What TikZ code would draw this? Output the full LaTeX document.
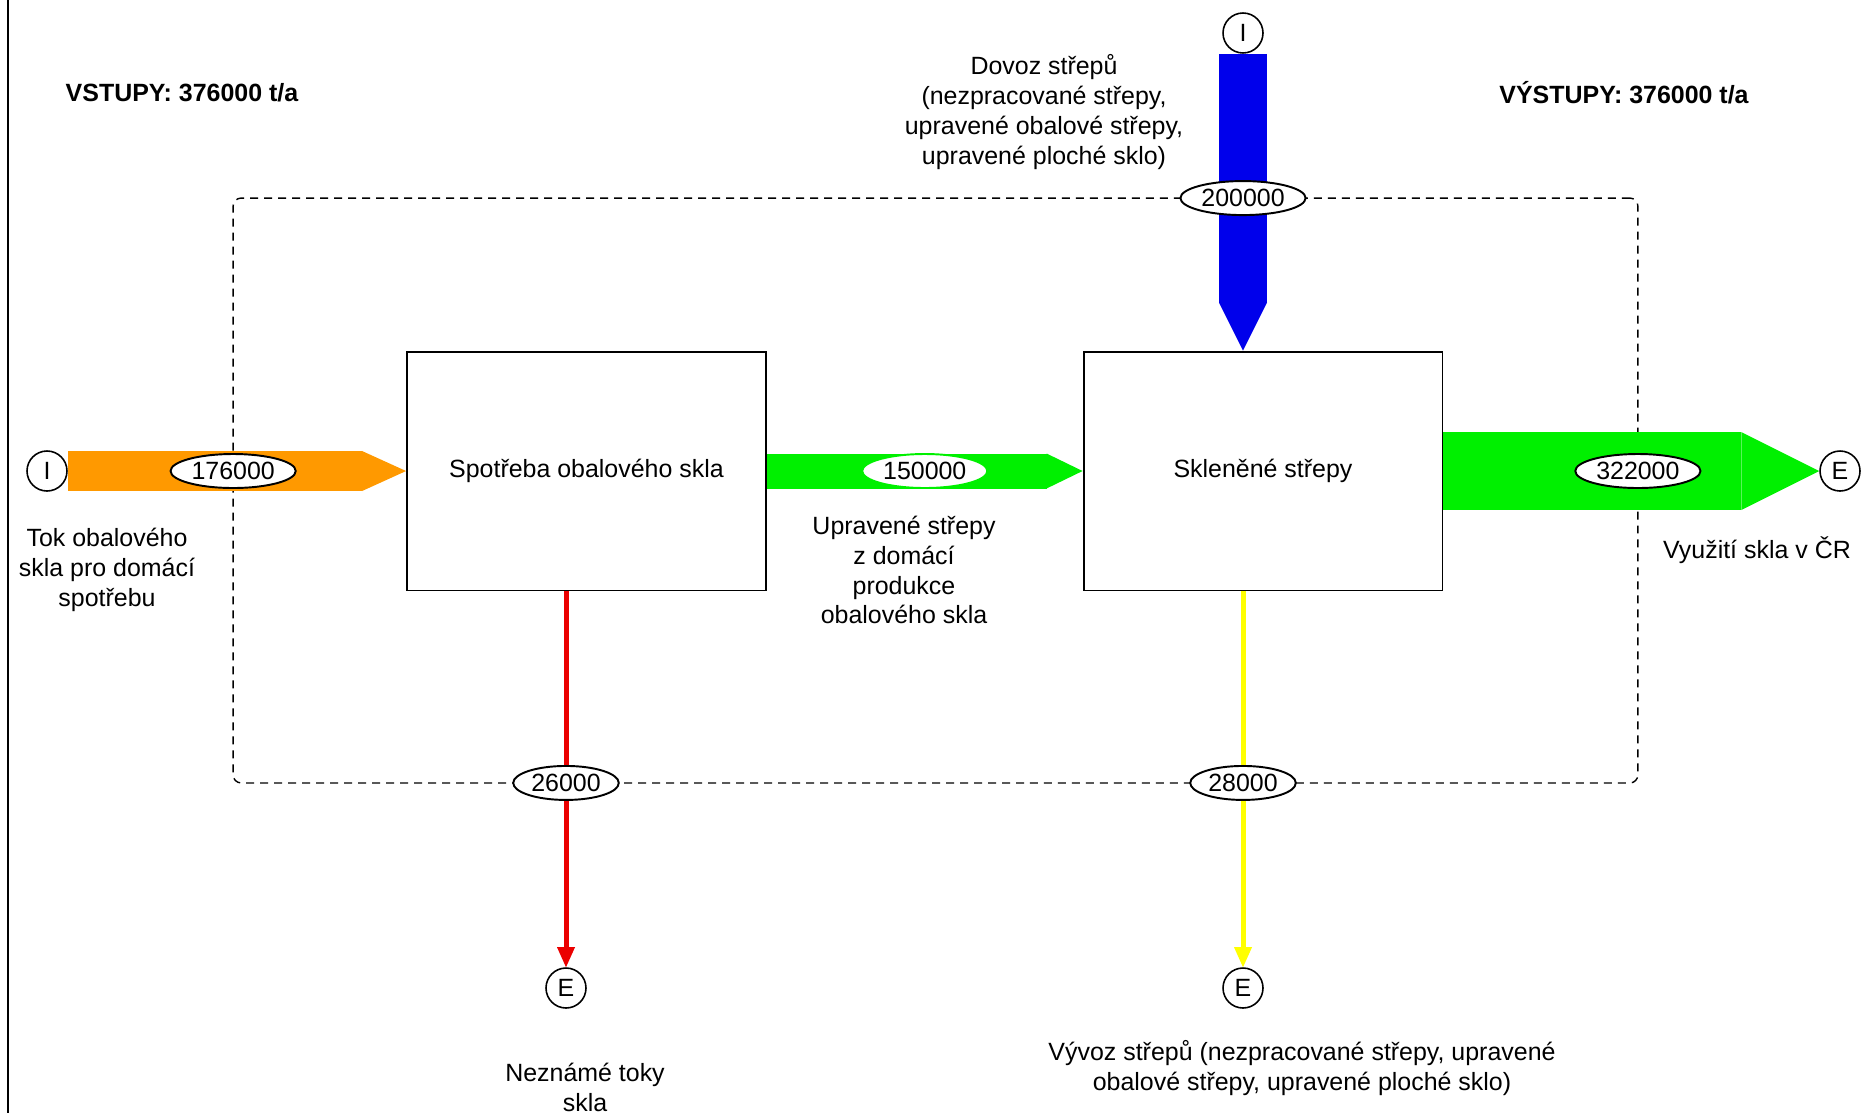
\documentclass[tikz,border=0pt]{standalone}
\usepackage{fontspec}
\setmainfont{Liberation Sans}
\usepackage{xcolor}
\usepackage{tikz}
\usetikzlibrary{shapes.geometric, arrows.meta, positioning}
\definecolor{flowOrange}{RGB}{255,153,0}
\definecolor{flowGreen}{RGB}{0,240,0}
\definecolor{flowBlue}{RGB}{0,0,235}
\definecolor{flowRed}{RGB}{235,0,0}
\definecolor{flowYellow}{RGB}{255,255,0}
\tikzset{
    process/.style={rectangle, draw, line width=1.1pt, fill=white, minimum width=7.18cm, minimum height=4.78cm, inner sep=0pt, text centered},
    terminal/.style={circle, draw, line width=0.9pt, fill=white, minimum size=0.8cm, inner sep=0pt},
    amount/.style={ellipse, draw, line width=1.1pt, fill=white, inner xsep=1.5pt, inner ysep=0pt, minimum height=0.68cm},
    boundary/.style={rectangle, draw, dashed, dash pattern=on 0.16cm off 0.12cm, line width=0.8pt, rounded corners=0.16cm, minimum width=28.1cm, minimum height=11.7cm, inner sep=0pt, outer sep=0pt},
    caption/.style={align=center},
    fatflow/.style n args={3}{draw=#1, line width=#2, -{Triangle[length=#3, width=#2, line width=0pt]}},
    thinflow/.style={draw=#1, line width=0.1cm, -{Triangle[length=0.4cm, width=0.36cm, line width=0pt]}}
}
\begin{document}
\begin{tikzpicture}[
    x=0.02cm, y=-0.02cm,
    every node/.append style={font=\fontsize{14.2pt}{17pt}\selectfont},
    total/.style={font=\fontsize{14.2pt}{17pt}\selectfont\bfseries}
]
    \useasboundingbox (0,0) rectangle (1861,1113);
    \draw[line width=1.1pt] (8,0) -- (8,1113);

    % System boundary
    \node[boundary] (bnd) at (935.5,490.5) {};

    % Totals
    \node[total] (inTotal) at (182,93) {VSTUPY: 376000 t/a};
    \node[total] (outTotal) at (1624,93) {VÝSTUPY: 376000 t/a};

    % Inputs and exports
    \node[terminal] (inOrange) at (47,471) {I};
    \node[terminal] (inBlue) at (1243,33) {I};
    \node[terminal] (outGreen) at (1840,471) {E};
    \node[terminal] (outRed) at (566,988) {E};
    \node[terminal] (outYellow) at (1243,988) {E};

    % Processes
    \node[process] (consume) at (586.5,471) {Spotřeba obalového skla};
    \node[process] (cullet) at (1263,471) {Skleněné střepy};

    % Flows
    \draw[fatflow={flowOrange}{0.8cm}{0.88cm}] (inOrange) -- (consume);
    \draw[fatflow={flowGreen}{0.7cm}{0.72cm}] (consume) -- node[amount] (amtGreen) {150000} (cullet);
    \draw[fatflow={flowBlue}{0.96cm}{0.96cm}] (inBlue) -- (inBlue |- cullet.north);
    \draw[fatflow={flowGreen}{1.56cm}{1.56cm}] (cullet) -- (outGreen);
    \draw[thinflow=flowRed] (outRed |- consume.south) -- (outRed);
    \draw[thinflow=flowYellow] (outYellow |- cullet.south) -- (outYellow);

    % Amounts on the boundary
    \node[amount] (amtOrange) at (bnd.west |- inOrange) {176000};
    \node[amount] (amtBlue) at (bnd.north -| inBlue) {200000};
    \node[amount] (amtOut) at (bnd.east |- outGreen) {322000};
    \node[amount] (amtRed) at (bnd.south -| outRed) {26000};
    \node[amount] (amtYellow) at (bnd.south -| outYellow) {28000};

    % Captions
    \node[caption] (capOrange) at (107,570) {Tok obalového\\skla pro domácí\\spotřebu};
    \node[caption] (capGreen) at (904,570) {Upravené střepy\\z domácí\\produkce\\obalového skla};
    \node[caption] (capBlue) at (1044,112) {Dovoz střepů\\(nezpracované střepy,\\upravené obalové střepy,\\upravené ploché sklo)};
    \node[caption] (capOut) at (1757,550) {Využití skla v ČR};
    \node[caption] (capYellow) at (1302,1068) {Vývoz střepů (nezpracované střepy, upravené\\obalové střepy, upravené ploché sklo)};
    \node[caption] (capRed) at (585,1087) {Neznámé toky\\skla};
\end{tikzpicture}
\end{document}
